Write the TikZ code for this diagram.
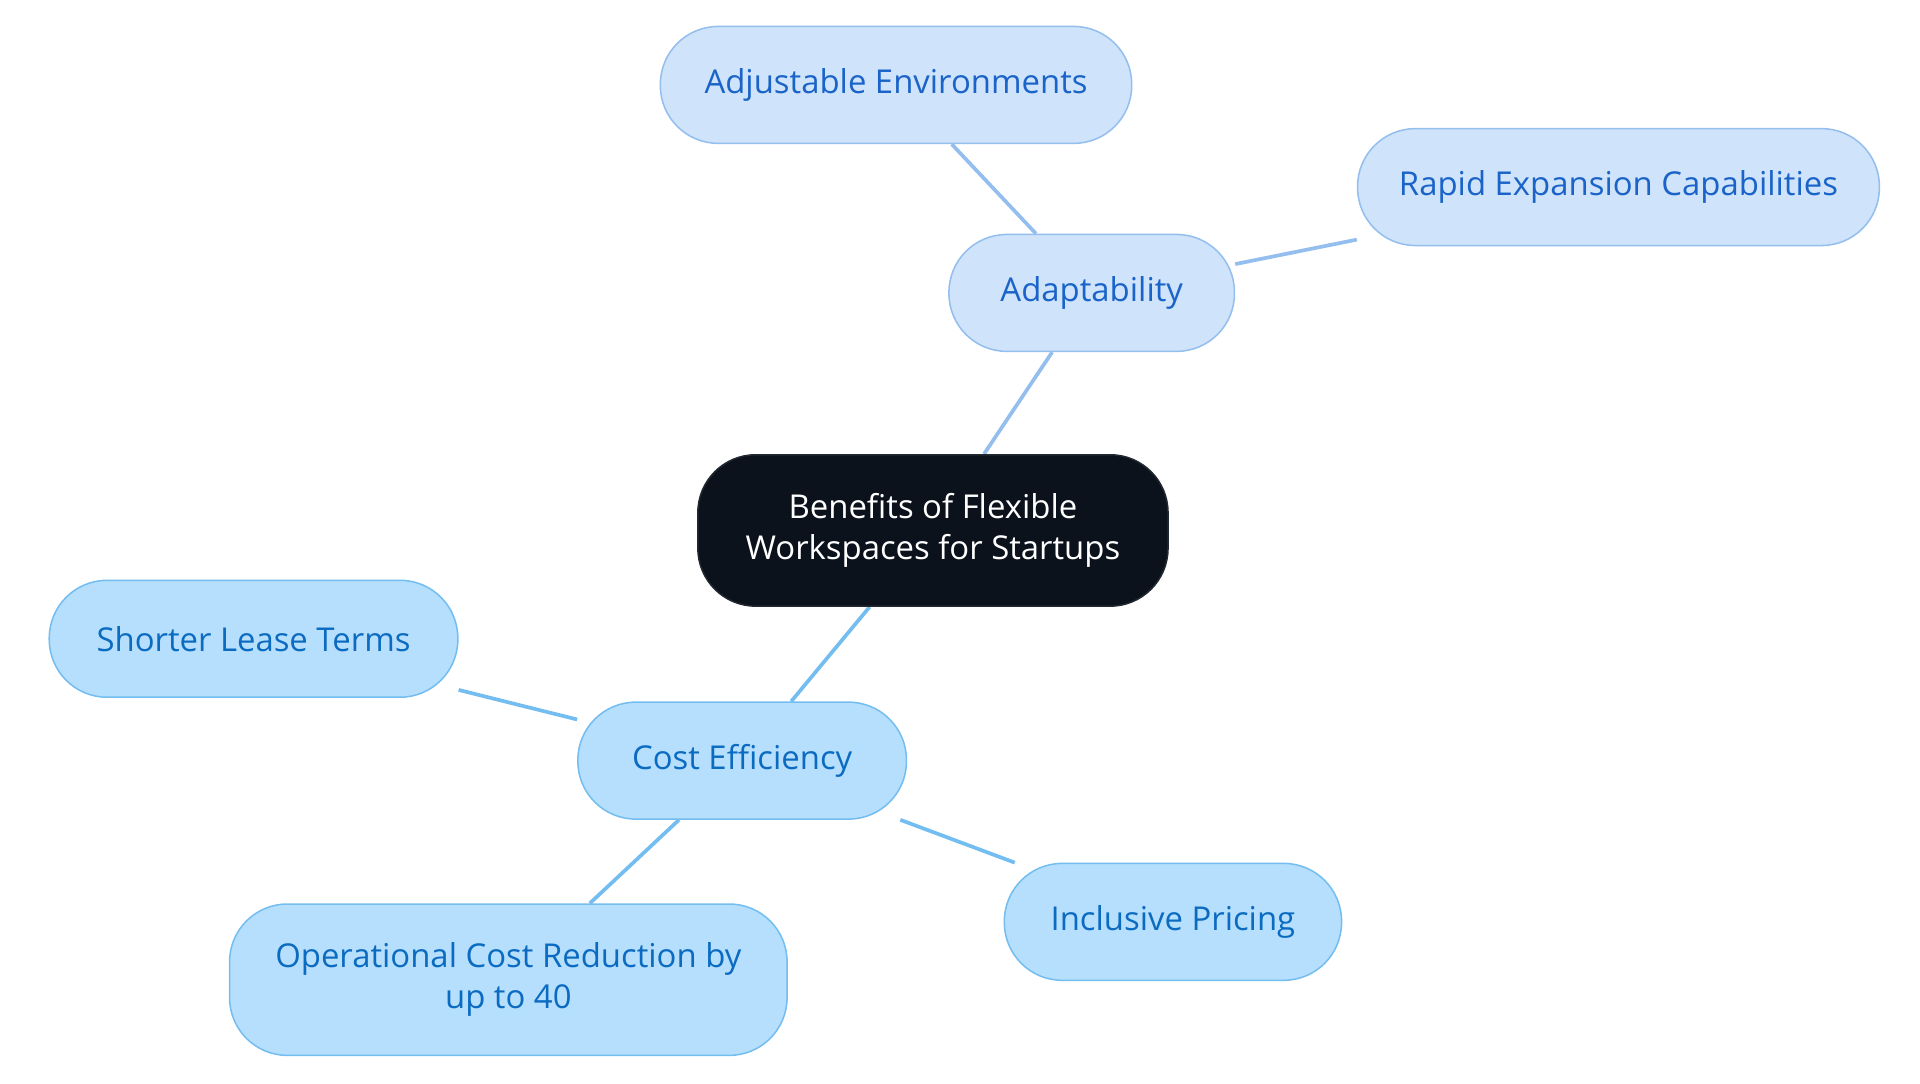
\documentclass[tikz,border=0pt]{standalone}
\usepackage{fontspec}
\setmainfont{Open Sans}
\usetikzlibrary{backgrounds}
\definecolor{rootfill}{HTML}{0B121C}
\definecolor{adfill}{HTML}{CFE3FA}
\definecolor{addraw}{HTML}{93BEEE}
\definecolor{adtext}{HTML}{1A63C8}
\definecolor{cofill}{HTML}{B5DFFD}
\definecolor{codraw}{HTML}{74BDF0}
\definecolor{cotext}{HTML}{0B6BC0}
\begin{document}
\begin{tikzpicture}[
box/.style = {rounded corners = .47cm, line width = .35pt, align = center,
  font = \fontsize{7.6}{9.4}\selectfont, inner sep = 0pt, minimum height = .95cm},
root/.style = {box, fill = rootfill, draw = rootfill!80!gray, text = white, minimum height = 1.23cm, minimum width = 3.82cm},
adnode/.style = {box, fill = adfill, draw = addraw, text = adtext},
conode/.style = {box, fill = cofill, draw = codraw, text = cotext},
adline/.style = {draw = addraw, line width = .3mm},
coline/.style = {draw = codraw, line width = .3mm}
]
\useasboundingbox (0,0) rectangle (15.6,8.8);

% centre
\node[root] (bene) at (7.58,4.49) {Benefits of Flexible\\Workspaces for Startups};

% adaptability branch
\node[adnode, minimum width = 2.32cm] (adap) at (8.87,6.42) {Adaptability};
\node[adnode, minimum width = 3.83cm] (adju) at (7.28,8.11) {Adjustable Environments};
\node[adnode, minimum width = 4.24cm] (rapi) at (13.15,7.28) {Rapid Expansion Capabilities};

% cost branch
\node[conode, minimum width = 2.67cm] (cost) at (6.03,2.62) {Cost Efficiency};
\node[conode, minimum width = 3.32cm] (shor) at (2.06,3.61) {Shorter Lease Terms};
\node[conode, minimum width = 4.53cm, minimum height = 1.23cm] (oper) at (4.13,0.84) {Operational Cost Reduction by\\up to 40};
\node[conode, minimum width = 2.74cm] (incl) at (9.53,1.31) {Inclusive Pricing};

\begin{scope}[on background layer]
\draw[adline] (bene) -- (adap);
\draw[adline] (adap) -- (adju);
\draw[adline] (adap) -- (rapi);
\draw[coline] (bene) -- (cost);
\draw[coline] (cost) -- (shor);
\draw[coline] (cost) -- (oper);
\draw[coline] (cost) -- (incl);
\end{scope}
\end{tikzpicture}
\end{document}
